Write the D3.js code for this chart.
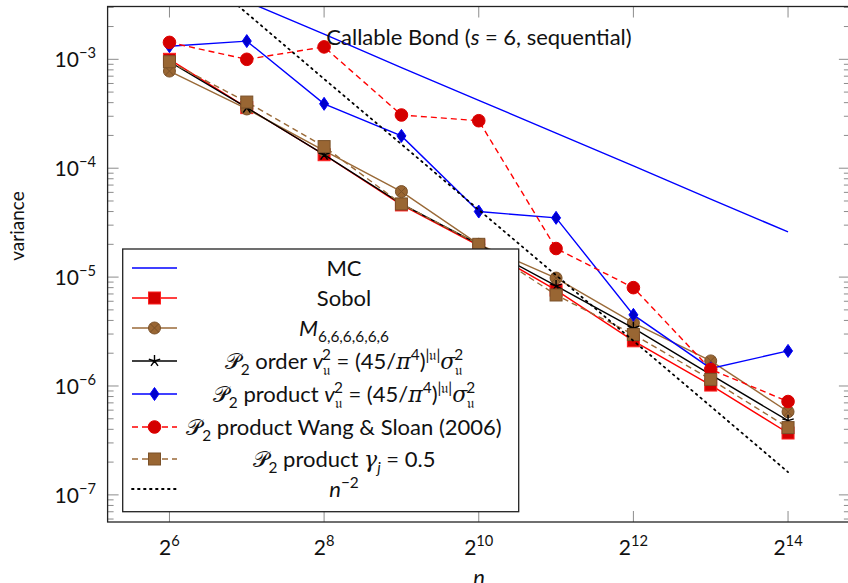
<!DOCTYPE html>
<html>
<head>
<meta charset="utf-8">
<script src="https://cdn.jsdelivr.net/npm/d3@7/dist/d3.min.js"></script>
<style>
  body { margin: 0; background: #fff; }
  svg { display: block; font-family: Lato, "DejaVu Sans", sans-serif; }
</style>
</head>
<body>
<div class="chart"></div>
<script>
// sample sizes n = 2^6 .. 2^14
var nValues = [64, 128, 256, 512, 1024, 2048, 4096, 8192, 16384]
var xTickExps = [6, 8, 10, 12, 14]
var yTickExps = [-7, -6, -5, -4, -3]

// variance per method
var mc = [6.7e-3, 3.4e-3, 1.7e-3, 8.4e-4, 4.2e-4, 2.1e-4, 1.05e-4, 5.2e-5, 2.6e-5]
var sobol = [1.0e-3, 3.6e-4, 1.33e-4, 4.6e-5, 1.95e-5, 7.6e-6, 2.6e-6, 1.02e-6, 3.7e-7]
var mRule = [7.8e-4, 3.5e-4, 1.45e-4, 6.1e-5, 2.0e-5, 9.8e-6, 3.8e-6, 1.7e-6, 5.8e-7]
var p2Order = [9.5e-4, 3.6e-4, 1.33e-4, 4.7e-5, 2.0e-5, 8.3e-6, 3.4e-6, 1.27e-6, 4.8e-7]
var p2ProdV = [1.32e-3, 1.47e-3, 3.9e-4, 1.98e-4, 4.0e-5, 3.5e-5, 4.5e-6, 1.45e-6, 2.1e-6]
var p2Wang = [1.43e-3, 1.0e-3, 1.3e-3, 3.08e-4, 2.73e-4, 1.83e-5, 8.0e-6, 1.42e-6, 7.2e-7]
var p2Gamma = [9.5e-4, 4.05e-4, 1.58e-4, 4.7e-5, 2.0e-5, 6.85e-6, 2.97e-6, 1.15e-6, 4.15e-7]
var nMinus2 = [1.06e-2, 2.65e-3, 6.6e-4, 1.66e-4, 4.15e-5, 1.04e-5, 2.6e-6, 6.5e-7, 1.62e-7]

var BROWN = '#9a6a38', BROWN_FILL = '#996633', BROWN_EDGE = '#7a5129'

var vLabel = function (word) {
  return [['\u{1D4AB}', 'cal'], ['2', 'sub'], [' ' + word + ' ', 'n'], ['v', 'it'], ['\u{1D532}', 'sub'], ['2', 'sup', -8],
    [' = (45/', 'n'], ['\u03C0', 'greek'], ['4', 'sup'], [')', 'n'], ['|\u{1D532}|', 'sup'], ['\u03C3', 'greek'],
    ['\u{1D532}', 'sub'], ['2', 'sup', -8]]
}

var series = [
  { values: mc, color: '#0000ff', dash: null, marker: null,
    label: [['MC', 'n']] },
  { values: sobol, color: '#ff0000', dash: null, marker: 'square', fill: '#d40000', edge: '#ff2020',
    label: [['Sobol', 'n']] },
  { values: mRule, color: BROWN, dash: null, marker: 'otimes', fill: BROWN_FILL, edge: BROWN_EDGE,
    label: [['M', 'it'], ['6,6,6,6,6,6', 'sub']] },
  { values: p2Order, color: '#000000', dash: null, marker: 'star', fill: '#000', edge: '#000',
    label: vLabel('order') },
  { values: p2ProdV, color: '#0000ff', dash: null, marker: 'diamond', fill: '#0000cc', edge: '#0000ff',
    label: vLabel('product') },
  { values: p2Wang, color: '#ff0000', dash: '6,4', marker: 'circle', fill: '#d40000', edge: '#e00000',
    label: [['\u{1D4AB}', 'cal'], ['2', 'sub'], [' product Wang & Sloan (2006)', 'n']] },
  { values: p2Gamma, color: BROWN, dash: '6,4', marker: 'square', fill: BROWN_FILL, edge: BROWN_EDGE,
    label: [['\u{1D4AB}', 'cal'], ['2', 'sub'], [' product ', 'n'], ['\u03B3', 'greek'], ['j', 'subit'], [' = 0.5', 'n']] },
  { values: nMinus2, color: '#000000', dash: '1.6,4.4', marker: null,
    label: [['n', 'it'], ['\u22122', 'sup']] }
]

var W = 848, H = 583
var plot = { left: 107.6, right: 849.9, top: 6.5, bottom: 522 }

var svg = d3.select('.chart').append('svg')
  .attr('width', W).attr('height', H)

var x = d3.scaleLog().base(2)
  .domain([Math.pow(2, 5.2), Math.pow(2, 14.8)])
  .range([plot.left, plot.right])
var y = d3.scaleLog()
  .domain([Math.pow(10, -7.249), Math.pow(10, -2.515)])
  .range([plot.bottom, plot.top])

svg.append('clipPath').attr('id', 'clip')
  .append('rect')
  .attr('x', plot.left).attr('y', plot.top)
  .attr('width', plot.right - plot.left).attr('height', plot.bottom - plot.top)

// rich text: [text, kind, dx]
function rich(sel, segs, size) {
  var cur = 0
  segs.forEach(function (s) {
    var kind = s[1]
    var target = 0, fs = size
    if (kind === 'sup') { target = -0.42 * size; fs = size * 0.7 }
    if (kind === 'sub' || kind === 'subit') { target = 0.28 * size; fs = size * 0.7 }
    var t = sel.append('tspan').text(s[0])
      .attr('dy', target - cur)
      .style('font-size', fs + 'px')
    if (s[2]) t.attr('dx', s[2])
    cur = target
    if (kind === 'it' || kind === 'subit') t.style('font-style', 'italic')
    if (kind === 'greek') t.style('font-style', 'italic').style('font-family', '"DejaVu Serif", serif')
    if (kind === 'cal') t.style('font-family', '"DejaVu Serif", "DejaVu Sans", serif')
  })
}

// ticks
var ticks = svg.append('g').attr('stroke', '#8c8c8c').attr('stroke-width', 1)
xTickExps.forEach(function (e) {
  var px = x(Math.pow(2, e))
  ticks.append('line').attr('x1', px).attr('x2', px).attr('y1', plot.bottom).attr('y2', plot.bottom - 11)
  ticks.append('line').attr('x1', px).attr('x2', px).attr('y1', plot.top).attr('y2', plot.top + 11)
})
y.ticks().forEach(function (v) {
  var py = y(v)
  var major = Math.abs(Math.log10(v) - Math.round(Math.log10(v))) < 1e-6
  var len = major ? 11 : 6
  ticks.append('line').attr('x1', plot.left).attr('x2', plot.left + len).attr('y1', py).attr('y2', py)
  ticks.append('line').attr('x1', plot.right).attr('x2', plot.right - len).attr('y1', py).attr('y2', py)
})

// tick labels
xTickExps.forEach(function (e) {
  var t = svg.append('text')
    .attr('x', x(Math.pow(2, e))).attr('y', 555)
    .attr('text-anchor', 'middle').style('font-size', '21px').attr('fill', '#111')
  rich(t, [['2', 'n'], [String(e), 'sup']], 21)
})
yTickExps.forEach(function (e) {
  var t = svg.append('text')
    .attr('x', 96).attr('y', y(Math.pow(10, e)) + 8)
    .attr('text-anchor', 'end').style('font-size', '21px').attr('fill', '#111')
  rich(t, [['10', 'n'], ['\u2212' + (-e), 'sup']], 21)
})

// series
var line = d3.line()
  .x(function (d, i) { return x(nValues[i]) })
  .y(function (d) { return y(d) })

function drawMarker(g, type, cx, cy, s) {
  if (type === 'square') {
    g.append('rect').attr('x', cx - 6).attr('y', cy - 6).attr('width', 12).attr('height', 12)
      .attr('fill', s.fill).attr('stroke', s.edge).attr('stroke-width', 1)
  } else if (type === 'circle') {
    g.append('circle').attr('cx', cx).attr('cy', cy).attr('r', 6.3)
      .attr('fill', s.fill).attr('stroke', s.edge).attr('stroke-width', 1)
  } else if (type === 'otimes') {
    g.append('circle').attr('cx', cx).attr('cy', cy).attr('r', 6)
      .attr('fill', s.fill).attr('stroke', s.edge).attr('stroke-width', 1)
    var k = 4.2
    g.append('path').attr('d', 'M' + (cx - k) + ',' + (cy - k) + 'L' + (cx + k) + ',' + (cy + k) +
      'M' + (cx - k) + ',' + (cy + k) + 'L' + (cx + k) + ',' + (cy - k))
      .attr('stroke', s.edge).attr('stroke-width', 1)
  } else if (type === 'diamond') {
    g.append('path').attr('d', 'M' + cx + ',' + (cy - 6.5) + 'L' + (cx + 4.5) + ',' + cy +
      'L' + cx + ',' + (cy + 6.5) + 'L' + (cx - 4.5) + ',' + cy + 'Z')
      .attr('fill', s.fill).attr('stroke', s.edge).attr('stroke-width', 1)
  } else if (type === 'star') {
    var d = ''
    for (var i = 0; i < 5; i++) {
      var a = -Math.PI / 2 + i * 2 * Math.PI / 5
      d += 'M' + cx + ',' + cy + 'L' + (cx + 6 * Math.cos(a)) + ',' + (cy + 6 * Math.sin(a))
    }
    g.append('path').attr('d', d).attr('stroke', s.edge).attr('stroke-width', 1.4).attr('fill', 'none')
  }
}

var plotG = svg.append('g').attr('clip-path', 'url(#clip)')
series.forEach(function (s) {
  var g = plotG.append('g')
  g.append('path').datum(s.values)
    .attr('d', line)
    .attr('fill', 'none')
    .attr('stroke', s.color)
    .attr('stroke-width', s.marker === null && s.dash ? 1.8 : 1.4)
    .attr('stroke-linecap', s.dash && s.marker === null ? 'round' : 'butt')
    .attr('stroke-dasharray', s.dash)
  if (s.marker) {
    s.values.forEach(function (v, i) { drawMarker(g, s.marker, x(nValues[i]), y(v), s) })
  }
})

// frame
svg.append('rect')
  .attr('x', plot.left).attr('y', plot.top)
  .attr('width', plot.right - plot.left).attr('height', plot.bottom - plot.top)
  .attr('fill', 'none').attr('stroke', '#222').attr('stroke-width', 1.3)

// title
var title = svg.append('text').attr('x', 479).attr('y', 45)
  .attr('text-anchor', 'middle').style('font-size', '22px').attr('fill', '#111')
rich(title, [['Callable Bond (', 'n'], ['s', 'it'], ['\u2005=\u20056, sequential)', 'n']], 22)

// axis labels
svg.append('text').attr('x', 479).attr('y', 585).attr('text-anchor', 'middle')
  .style('font-size', '22px').style('font-style', 'italic').attr('fill', '#111').text('n')
svg.append('text').attr('transform', 'translate(24,226) rotate(-90)').attr('text-anchor', 'middle')
  .style('font-size', '19px').attr('fill', '#111').text('variance')

// legend
var leg = { x: 122.7, y: 249, w: 396, h: 262.7 }
var rowY = [268, 298, 328, 361, 394, 427, 459, 489]
var lg = svg.append('g')
lg.append('rect').attr('x', leg.x).attr('y', leg.y).attr('width', leg.w).attr('height', leg.h)
  .attr('fill', '#fff').attr('stroke', '#222').attr('stroke-width', 1.3)
series.forEach(function (s, i) {
  var ry = rowY[i]
  lg.append('line').attr('x1', 132).attr('x2', 177).attr('y1', ry).attr('y2', ry)
    .attr('stroke', s.color)
    .attr('stroke-width', s.marker === null && s.dash ? 1.8 : 1.4)
    .attr('stroke-linecap', s.dash && s.marker === null ? 'round' : 'butt')
    .attr('stroke-dasharray', s.dash)
  if (s.marker) drawMarker(lg, s.marker, 154.5, ry, s)
  var t = lg.append('text').attr('x', 344).attr('y', ry + 8)
    .attr('text-anchor', 'middle').style('font-size', '22px').attr('fill', '#111')
  rich(t, s.label, 22)
})
</script>
</body>
</html>
